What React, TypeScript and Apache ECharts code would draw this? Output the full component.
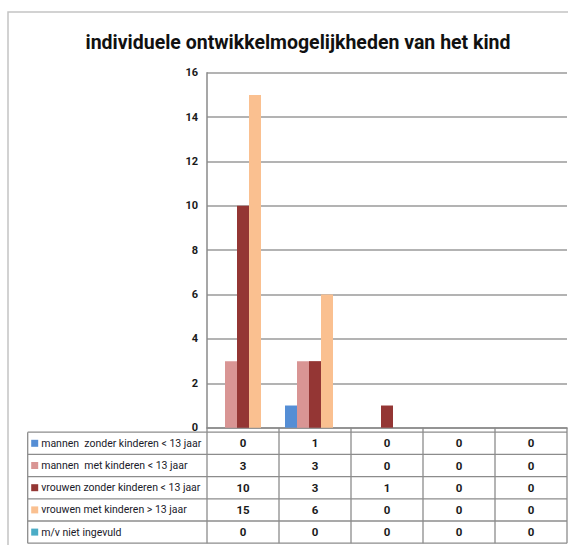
import React, { useEffect, useRef } from "react";
import * as echarts from "echarts";

const title = "individuele ontwikkelmogelijkheden van het kind";
const categories = ["1", "2", "3", "4", "5"];
const seriesNames = [
  "mannen  zonder kinderen < 13 jaar",
  "mannen  met kinderen < 13 jaar",
  "vrouwen zonder kinderen < 13 jaar",
  "vrouwen met kinderen > 13 jaar",
  "m/v niet ingevuld",
];
const mannenZonder = [0, 1, 0, 0, 0];
const mannenMet = [3, 3, 0, 0, 0];
const vrouwenZonder = [10, 3, 1, 0, 0];
const vrouwenMet = [15, 6, 0, 0, 0];
const nietIngevuld = [0, 0, 0, 0, 0];
const seriesValues = [mannenZonder, mannenMet, vrouwenZonder, vrouwenMet, nietIngevuld];
const colors = ["#558ED5", "#D99594", "#943634", "#FAC090", "#4BACC6"];

const narrow = "Roboto, 'Liberation Sans Narrow', sans-serif";

export default function App() {
  const ref = useRef<HTMLDivElement>(null);
  useEffect(() => {
    if (!ref.current) return;
    const chart = echarts.init(ref.current, null, { renderer: "svg" });
    chart.setOption({
      animation: false,
      backgroundColor: "#ffffff",
      title: {
        text: title,
        left: 293,
        textAlign: "center",
        top: 27,
        textStyle: { fontFamily: narrow, fontWeight: "bold", fontSize: 19.5, color: "#111" },
      },
      grid: { left: 207, top: 72.7, right: 1, bottom: 117.3, containLabel: false },
      xAxis: {
        type: "category",
        data: categories,
        axisLine: { show: true, lineStyle: { color: "#8a8a8a", width: 1.5 } },
        axisTick: { show: false },
        axisLabel: { show: false },
        splitLine: { show: false },
      },
      yAxis: {
        type: "value",
        min: 0,
        max: 16,
        interval: 2,
        axisLine: { show: true, lineStyle: { color: "#8a8a8a", width: 1.5 } },
        axisTick: { show: false },
        axisLabel: { fontFamily: narrow, fontWeight: "bold", fontSize: 11, color: "#1a1a1a", margin: 9 },
        splitLine: { show: true, lineStyle: { color: "#9a9a9a", width: 1.5 } },
      },
      series: seriesNames.map((name, i) => ({
        name,
        type: "bar",
        data: seriesValues[i],
        barGap: "0%",
        barCategoryGap: "16.7%",
        itemStyle: { color: colors[i] },
      })),
    });

    // Build the data table below the plot using the chart's own scales
    const x0 = chart.convertToPixel({ xAxisIndex: 0 }, categories[0]) as number;
    const x1 = chart.convertToPixel({ xAxisIndex: 0 }, categories[1]) as number;
    const band = x1 - x0;
    const axisY = chart.convertToPixel({ yAxisIndex: 0 }, 0) as number;
    const tableTop = axisY + 4.5;
    const rowH = 22.2;
    const tableLeft = 27.7;
    const firstLeft = x0 - band / 2;
    const tableRight = firstLeft + band * categories.length;
    const tableBottom = tableTop + rowH * seriesNames.length;
    const lineStyle = { stroke: "#8c8c8c", lineWidth: 1.3 };
    const g: any[] = [];
    // outer chart border
    g.push({ type: "rect", shape: { x: 8, y: 12, width: 580, height: 560 }, style: { fill: "none", stroke: "#c4c4c4", lineWidth: 1.5 }, silent: true });
    for (let r = 0; r <= seriesNames.length; r++) {
      const y = tableTop + r * rowH;
      g.push({ type: "line", shape: { x1: tableLeft, y1: y, x2: tableRight, y2: y }, style: lineStyle });
    }
    g.push({ type: "line", shape: { x1: tableLeft, y1: tableTop, x2: tableLeft, y2: tableBottom }, style: lineStyle });
    for (let c = 0; c <= categories.length; c++) {
      const x = firstLeft + c * band;
      g.push({ type: "line", shape: { x1: x, y1: axisY, x2: x, y2: tableBottom }, style: lineStyle });
    }
    seriesNames.forEach((name, r) => {
      const cy = tableTop + r * rowH + rowH / 2;
      g.push({ type: "rect", shape: { x: tableLeft + 3.5, y: cy - 3.5, width: 7, height: 7 }, style: { fill: colors[r] } });
      g.push({
        type: "text",
        x: tableLeft + 13.5,
        y: cy,
        style: { text: name, fontFamily: narrow, fontSize: 10.5, fill: "#1a1a2a", verticalAlign: "middle", align: "left" },
      });
      seriesValues[r].forEach((v, c) => {
        const cx = chart.convertToPixel({ xAxisIndex: 0 }, categories[c]) as number;
        g.push({
          type: "text",
          x: cx,
          y: cy,
          style: { text: String(v), fontFamily: narrow, fontWeight: "bold", fontSize: 11.5, fill: "#1a1a1a", align: "center", verticalAlign: "middle" },
        });
      });
    });
    chart.setOption({ graphic: g });
    return () => chart.dispose();
  }, []);
  return <div ref={ref} style={{ width: 568, height: 545, position: "absolute", left: 0, top: 0 }} />;
}
